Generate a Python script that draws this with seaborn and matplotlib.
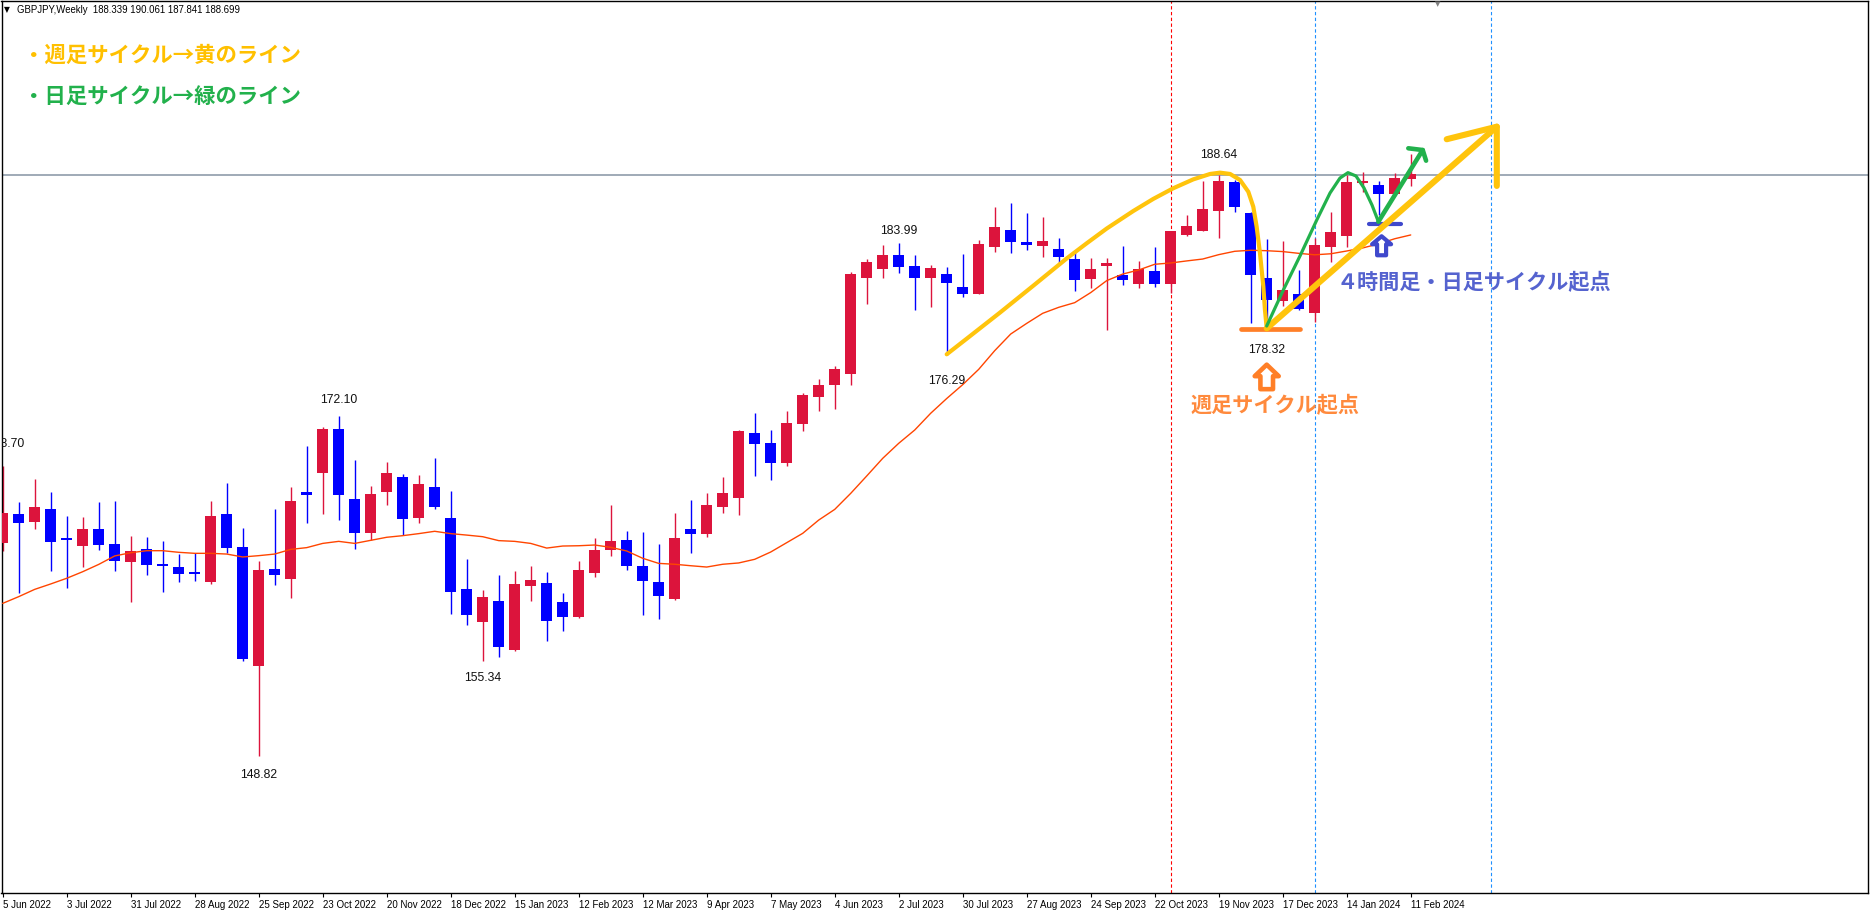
import numpy as np
import pandas as pd
import matplotlib
matplotlib.use("Agg")
import matplotlib.pyplot as plt
import seaborn as sns
from matplotlib.patches import Polygon
from matplotlib.transforms import ScaledTranslation

# ---------------- data (weekly GBPJPY candles, index 0 = week of 5 Jun 2022) ----------------
opens = [163.42, 165.38, 164.86, 165.73, 163.74, 163.21, 164.36, 163.33, 162.09, 162.99,
         161.94, 161.75, 161.36, 160.72, 165.38, 163.12, 154.99, 161.61, 160.93, 166.89,
         168.22, 171.21, 166.41, 164.11, 166.92, 167.92, 165.13, 167.24, 165.11, 160.24,
         158.00, 159.42, 156.06, 160.47, 160.66, 159.35, 158.35, 161.36, 162.94, 163.60,
         161.82, 160.72, 159.58, 164.36, 164.04, 165.89, 166.50, 170.94, 170.25, 168.88,
         171.58, 173.43, 174.25, 175.00, 181.58, 182.20, 183.14, 182.38, 181.58, 181.83,
         180.94, 180.49, 183.66, 184.83, 184.00, 183.78, 183.55, 182.86, 181.51, 182.36,
         181.77, 181.13, 182.04, 181.17, 184.51, 184.80, 186.18, 188.16, 185.99, 181.54,
         180.01, 180.44, 179.14, 183.66, 184.44, 188.09, 187.91, 187.32, 188.339]
highs = [168.70, 166.21, 167.78, 166.89, 165.25, 165.18, 166.21, 166.28, 163.88, 163.81,
         163.53, 162.64, 162.69, 166.28, 167.51, 164.43, 162.16, 165.73, 167.24, 170.05,
         171.35, 172.10, 169.09, 167.30, 168.95, 168.13, 168.06, 169.22, 166.96, 162.30,
         160.18, 161.20, 161.48, 161.82, 161.41, 159.97, 162.16, 163.72, 166.00, 164.22,
         164.15, 163.33, 165.43, 166.34, 166.80, 167.92, 171.14, 172.33, 171.14, 172.44,
         173.68, 174.64, 175.53, 181.97, 182.86, 183.82, 183.99, 183.14, 182.45, 182.34,
         183.21, 184.16, 186.45, 186.68, 185.99, 185.72, 184.30, 183.37, 182.93, 182.93,
         183.75, 182.72, 183.68, 184.78, 185.88, 188.23, 188.64, 188.28, 186.05, 184.21,
         184.12, 182.11, 184.28, 186.08, 188.62, 188.85, 188.21, 188.73, 190.061]
lows = [162.87, 159.95, 164.38, 161.48, 160.34, 161.78, 162.92, 161.48, 159.38, 161.20,
        160.06, 160.75, 160.82, 160.59, 162.69, 155.33, 148.82, 160.54, 159.65, 164.79,
        165.38, 164.97, 163.01, 163.60, 166.00, 163.95, 164.79, 165.73, 158.55, 157.80,
        155.34, 155.61, 156.02, 159.44, 156.70, 157.39, 158.28, 161.09, 162.53, 161.55,
        158.46, 158.21, 159.49, 162.73, 163.79, 165.48, 165.34, 167.99, 167.72, 168.67,
        171.07, 172.44, 172.60, 174.25, 179.80, 181.58, 181.93, 179.39, 179.59, 176.29,
        180.28, 180.44, 183.37, 183.25, 183.48, 182.98, 182.45, 180.69, 180.85, 178.00,
        181.10, 180.90, 180.97, 180.56, 184.45, 184.75, 184.33, 186.11, 178.45, 178.32,
        179.64, 179.37, 178.57, 182.68, 183.71, 187.48, 185.88, 187.20, 187.841]
closes = [165.48, 164.79, 165.86, 163.47, 163.63, 164.36, 163.28, 162.19, 162.85, 161.89,
          161.84, 161.30, 161.30, 165.25, 163.08, 155.47, 161.55, 161.23, 166.28, 166.71,
          171.21, 166.71, 164.11, 166.76, 168.19, 165.07, 167.44, 165.89, 160.02, 158.49,
          159.70, 156.29, 160.59, 160.86, 158.07, 158.35, 161.55, 162.92, 163.53, 161.84,
          160.81, 159.79, 163.74, 164.04, 166.00, 166.82, 171.07, 170.21, 168.90, 171.64,
          173.54, 174.23, 175.32, 181.83, 182.66, 183.14, 182.34, 181.58, 182.25, 181.24,
          180.49, 183.89, 185.03, 184.05, 183.84, 184.10, 182.98, 181.45, 182.18, 182.59,
          181.45, 182.18, 181.17, 184.75, 185.12, 186.29, 188.23, 186.43, 181.79, 180.05,
          180.72, 179.41, 183.82, 184.71, 188.16, 188.14, 187.29, 188.39, 188.699]
ma_values = [159.26, 159.72, 160.22, 160.59, 160.98, 161.43, 161.93, 162.51, 162.73, 162.87,
             162.87, 162.76, 162.69, 162.69, 162.64, 162.44, 162.53, 162.64, 162.96, 163.08,
             163.37, 163.51, 163.37, 163.58, 163.79, 163.90, 164.04, 164.20, 164.04, 163.94,
             163.83, 163.56, 163.51, 163.37, 163.05, 163.19, 163.21, 163.26, 163.10, 162.85,
             162.35, 162.00, 161.94, 161.84, 161.75, 161.94, 162.03, 162.28, 162.78, 163.42,
             164.06, 164.97, 165.70, 166.80, 167.99, 169.20, 170.23, 171.14, 172.29, 173.30,
             174.25, 175.30, 176.58, 177.72, 178.45, 179.14, 179.55, 179.87, 180.56, 181.38,
             181.83, 182.11, 182.50, 182.59, 182.73, 182.86, 183.16, 183.39, 183.46, 183.43,
             183.37, 183.25, 183.15, 183.22, 183.41, 183.62, 183.90, 184.25, 184.51]
weeks = list(range(len(opens)))

tick_weeks = list(range(0, 89, 4))
tick_labels = ["5 Jun 2022", "3 Jul 2022", "31 Jul 2022", "28 Aug 2022", "25 Sep 2022",
               "23 Oct 2022", "20 Nov 2022", "18 Dec 2022", "15 Jan 2023", "12 Feb 2023",
               "12 Mar 2023", "9 Apr 2023", "7 May 2023", "4 Jun 2023", "2 Jul 2023",
               "30 Jul 2023", "27 Aug 2023", "24 Sep 2023", "22 Oct 2023", "19 Nov 2023",
               "17 Dec 2023", "14 Jan 2024", "11 Feb 2024"]

# swing labels
swing_weeks = [0, 16, 21, 30, 56, 59, 76, 79]
swing_values = [168.70, 148.82, 172.10, 155.34, 183.99, 176.29, 188.64, 178.32]

# hand-drawn annotation paths (week index, price)
weekly_cycle_k = [59.0, 60.25, 62.33, 64.41, 66.5, 67.75, 69.0, 70.66, 71.91, 73.16, 74.41,
                  75.46, 76.08, 76.71, 77.33, 77.85, 78.16, 78.37, 78.58, 78.79, 78.89, 79.0]
weekly_cycle_p = [176.33, 177.40, 179.19, 181.03, 182.90, 183.94, 184.95, 186.15, 186.98,
                  187.71, 188.32, 188.69, 188.78, 188.69, 188.28, 187.47, 186.45, 185.08,
                  183.25, 180.96, 179.37, 178.11]
weekly_arrow_k = [79.0, 93.38]
weekly_arrow_p = [178.11, 191.93]
weekly_head_k = [90.25, 93.38, 93.38]
weekly_head_p = [191.07, 191.93, 187.87]
daily_cycle_k = [79.0, 80.04, 81.08, 82.13, 82.96, 83.58, 84.08, 84.58, 85.08, 85.58, 85.98]
daily_cycle_p = [178.27, 180.74, 183.07, 185.54, 187.39, 188.41, 188.78, 188.55, 187.73,
                 186.56, 185.42]
daily_arrow_k = [85.98, 88.75]
daily_arrow_p = [185.42, 190.33]
daily_head_k = [87.85, 88.75, 88.96]
daily_head_p = [190.45, 190.33, 189.60]
weekly_base_k = [77.4, 81.1]
weekly_base_p = 178.07
daily_base_k = [85.4, 87.4]
daily_base_p = 185.26
resistance_price = 188.62
vline_red_week = 73
vline_blue_weeks = [82, 93]

# ---------------- styling ----------------
sns.set_theme(style="white")
plt.rcParams["font.family"] = ["Liberation Sans", "DejaVu Sans"]

W, H = 1871, 913
fig = plt.figure(figsize=(W / 100, H / 100), dpi=100)
fig.patch.set_facecolor("white")
ax = fig.add_axes([1.5 / W, 20 / H, (1868 - 1.5) / W, (893 - 1.5) / H])
ax.set_facecolor("white")
ax.set_xlim(-0.075, 116.58)
ax.set_ylim(139.41, 200.51)

RED = "#DC143C"
BLUE = "#0000FF"

df = pd.DataFrame({"week": weeks, "open": opens, "high": highs, "low": lows,
                   "close": closes, "ma": ma_values})
df["up"] = df["close"] >= df["open"]
df["color"] = np.where(df["up"], RED, BLUE)
df["body_low"] = df[["open", "close"]].min(axis=1)
df["body_h"] = (df["close"] - df["open"]).abs().clip(lower=0.13)

# vertical dashed lines / horizontal line (behind candles)
ax.axvline(vline_red_week, color="#FF0000", lw=0.8, ls=(0, (3.0, 2.2)), zorder=1)
for wk in vline_blue_weeks:
    ax.axvline(wk, color="#1E90FF", lw=0.8, ls=(0, (3.0, 2.2)), zorder=1)
ax.axhline(resistance_price, color="#8593A3", lw=1.1, zorder=1)

# candles
ax.vlines(df["week"], df["low"], df["high"], colors=df["color"], lw=1.0, zorder=2)
ax.bar(df["week"], df["body_h"], bottom=df["body_low"], width=0.67,
       color=df["color"], linewidth=0, zorder=3)

# moving average
sns.lineplot(data=df, x="week", y="ma", color="#FF4500", lw=1.0, ax=ax, zorder=4)

# swing labels
swing_offsets_px = [(3, 22), (0, -19), (0, 16), (0, -17.6), (0, 12), (0, -25.7), (0, 20), (0, -25)]
for wk, val, (dx, dy) in zip(swing_weeks, swing_values, swing_offsets_px):
    ax.annotate(f"{val:.2f}", (wk, val), xytext=(dx * 0.72, dy * 0.72),
                textcoords="offset points", ha="center", va="center", fontsize=8.8,
                color="#111111", annotation_clip=False, clip_on=True, zorder=6)

# annotations
YEL = "#FFC40C"
GRN = "#22B14C"
ORG = "#FF7F27"
IND = "#3F48CC"
ax.plot(weekly_cycle_k, weekly_cycle_p, color=YEL, lw=3.0, solid_capstyle="round",
        solid_joinstyle="round", zorder=7)
ax.plot(weekly_arrow_k, weekly_arrow_p, color=YEL, lw=4.4, solid_capstyle="round", zorder=7)
ax.plot(weekly_head_k, weekly_head_p, color=YEL, lw=4.4, solid_capstyle="round",
        solid_joinstyle="round", zorder=7)
ax.plot(daily_cycle_k, daily_cycle_p, color=GRN, lw=2.3, solid_capstyle="round",
        solid_joinstyle="round", zorder=8)
ax.plot(daily_arrow_k, daily_arrow_p, color=GRN, lw=3.3, solid_capstyle="round", zorder=8)
ax.plot(daily_head_k, daily_head_p, color=GRN, lw=3.3, solid_capstyle="round",
        solid_joinstyle="round", zorder=8)
ax.plot(weekly_base_k, [weekly_base_p] * 2, color=ORG, lw=3.4, solid_capstyle="round", zorder=6)
ax.plot(daily_base_k, [daily_base_p] * 2, color=IND, lw=3.0, solid_capstyle="round", zorder=6)


def block_arrow(k, p, head_w, head_h, shaft_w, total_h, color, lw):
    verts = np.array([(0, 0), (head_w, -head_h), (shaft_w, -head_h), (shaft_w, -total_h),
                      (-shaft_w, -total_h), (-shaft_w, -head_h), (-head_w, -head_h)]) / 100.0
    tr = fig.dpi_scale_trans + ScaledTranslation(k, p, ax.transData)
    poly = Polygon(verts, closed=True, facecolor="white", edgecolor=color, lw=lw,
                   joinstyle="round", transform=tr, zorder=9)
    ax.add_patch(poly)


block_arrow(79.0, 175.62, 12, 11.5, 6.3, 24.5, ORG, 3.3)
block_arrow(86.18, 184.42, 9.5, 8, 4.5, 19, IND, 3.0)

# texts
JP = ["Noto Sans CJK JP", "DejaVu Sans"]
fig.text(23 / W, 1 - 55 / H, "・週足サイクル→黄のライン", family=JP, fontsize=15.4,
         fontweight="bold", color="#FFC000", ha="left", va="center")
fig.text(23 / W, 1 - 96.7 / H, "・日足サイクル→緑のライン", family=JP, fontsize=15.4,
         fontweight="bold", color=GRN, ha="left", va="center")
fig.text(1275 / W, 1 - 406 / H, "週足サイクル起点", family=JP, fontsize=15.2,
         fontweight="bold", color="#FF8A3D", ha="center", va="center")
fig.text(1337 / W, 1 - 283 / H, "４時間足・日足サイクル起点", family=JP, fontsize=15.2,
         fontweight="bold", color="#5563CF", ha="left", va="center")

fig.text(4 / W, 1 - 10 / H, "▼", family=["DejaVu Sans"], fontsize=5.5, color="black",
         ha="left", va="center")
fig.text(17 / W, 1 - 10 / H, "GBPJPY,Weekly  188.339 190.061 187.841 188.699",
         family=["Liberation Sans", "DejaVu Sans"], fontsize=6.9, color="black",
         ha="left", va="center")
fig.text(1438 / W, 1 - 4 / H, "▼", family=["DejaVu Sans"], fontsize=5, color="#808080",
         ha="center", va="center")

# axes
for s in ax.spines.values():
    s.set_color("black")
    s.set_linewidth(1.0)
ax.set_yticks([])
ax.set_xticks(tick_weeks)
ax.set_xticklabels(tick_labels, ha="left", family=["Liberation Sans", "DejaVu Sans"],
                   fontsize=7.0)
ax.tick_params(axis="x", direction="out", length=3.2, width=0.8, pad=1.5, colors="black",
               bottom=True)
ax.set_xlabel("")
ax.set_ylabel("")
ax.grid(False)

fig.savefig("out.png", dpi=100, facecolor="white")
